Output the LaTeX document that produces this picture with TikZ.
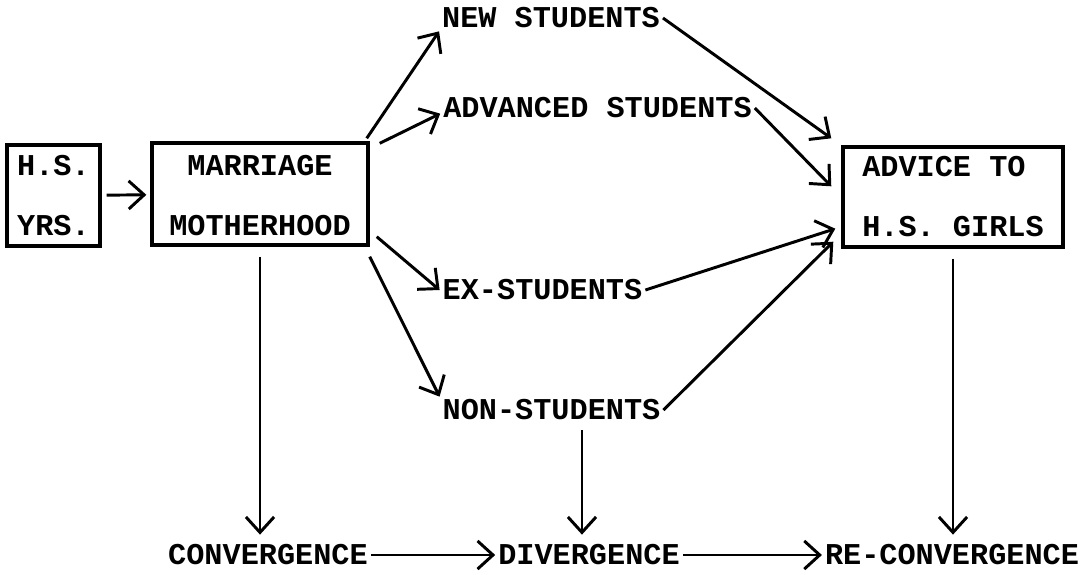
\documentclass[tikz,border=0pt]{standalone}
\usepackage{fontspec}
\setmonofont{Liberation Mono}
\usetikzlibrary{arrows.meta, positioning}

\begin{document}
\begin{tikzpicture}[
          x=0.025cm, y=-0.025cm,
          txt/.style={font=\ttfamily\bfseries\fontsize{21.5}{42.7}\selectfont, inner sep=2pt},
          box/.style={txt, draw, line width=2.4pt, align=center, inner sep=0pt},
          arr/.style={-{Straight Barb[length=11pt,width=20pt]}, line width=2.1pt}
        ]
        \useasboundingbox (0,0) rectangle (1084,574);
        \node[box, minimum width=2.325cm, minimum height=2.525cm] (hs) at (53.5,195.5) {\rule{0pt}{15pt}H.S.\\YRS.};
        \node[box, minimum width=5.4cm, minimum height=2.55cm] (marr) at (260,194) {\rule{0pt}{17pt}MARRIAGE\\MOTHERHOOD};
        \node[box, minimum width=5.5cm, minimum height=2.5cm, align=left] (advice) at (953,197) {ADVICE TO\\H.S. GIRLS};
        \node[txt] (new) at (551,18) {NEW STUDENTS};
        \node[txt] (adv) at (597.5,108) {ADVANCED STUDENTS};
        \node[txt] (ex) at (542.5,290) {EX-STUDENTS};
        \node[txt] (non) at (551.5,410) {NON-STUDENTS};
        \node[txt] (conv) at (268,555) {CONVERGENCE};
        \node[txt] (div) at (589,555) {DIVERGENCE};
        \node[txt] (rec) at (952,555) {RE-CONVERGENCE};
        \draw[arr, shorten <=3.5pt, shorten >=2.8pt] (hs) -- (marr);
        \draw[arr] ([shift={(-3,-3)}]marr.north east) -- (new.south west);
        \draw[arr] ([shift={(10,2)}]marr.north east) -- ([yshift=-4pt]adv.west);
        \draw[arr] ([shift={(7,-10)}]marr.south east) -- (ex.west);
        \draw[arr] ([shift={(0,10)}]marr.south east) -- (non.north west);
        \draw[arr] (new.east) -- ([shift={(-10,-7)}]advice.north west);
        \draw[arr] (adv.east) -- ([shift={(-10,41)}]advice.north west);
        \draw[arr] (ex.east) -- ([shift={(-6,-20)}]advice.south west);
        \draw[arr] (non.east) -- ([shift={(-8,-7)}]advice.south west);
        \draw[arr, shorten <=7pt, shorten >=5pt] (marr.south) -- (marr.south |- conv.north);
        \draw[arr, shorten <=5pt, shorten >=5pt] ([xshift=-5pt]div.north |- non.south) -- ([xshift=-5pt]div.north);
        \draw[arr, shorten <=7pt, shorten >=5pt] (advice.south) -- (advice.south |- rec.north);
        \draw[arr] (conv) -- (div);
        \draw[arr] (div) -- (rec);
      \end{tikzpicture}
\end{document}
